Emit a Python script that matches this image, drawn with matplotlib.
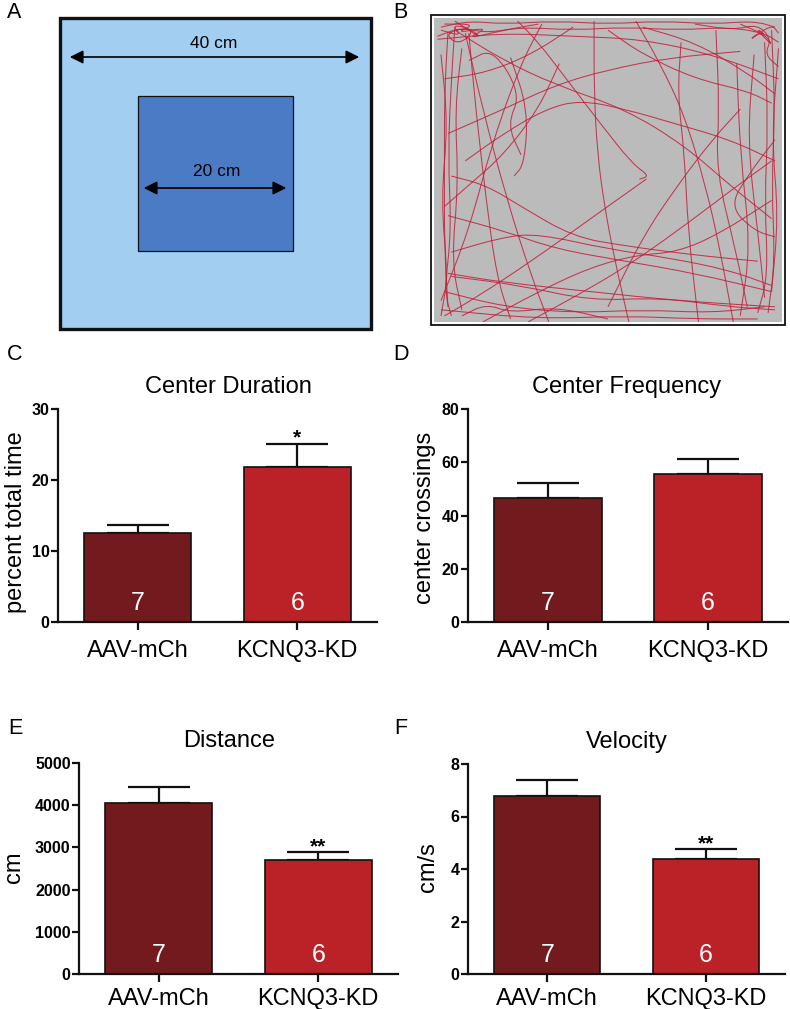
import matplotlib
matplotlib.use("Agg")
import matplotlib.pyplot as plt
from matplotlib.patches import Rectangle, PathPatch
from matplotlib.path import Path

plt.rcParams['font.family'] = ['Liberation Sans', 'DejaVu Sans']

W, H = 790, 1009

# ---------------- data ----------------
groups = ["AAV-mCh", "KCNQ3-KD"]
n_animals = ["7", "6"]

dur_mean = [12.6, 21.8]
dur_sem = [1.0, 3.3]
dur_sig = ["", "*"]

freq_mean = [46.5, 55.6]
freq_sem = [5.6, 5.6]
freq_sig = ["", ""]

dist_mean = [4050, 2695]
dist_sem = [380, 190]
dist_sig = ["", "**"]

vel_mean = [6.77, 4.39]
vel_sem = [0.63, 0.36]
vel_sig = ["", "**"]

# trajectory waypoints (percent of arena, y from top)
trajectory = [
    [(2, 3), (10, 1), (20, 2), (35, 1), (50, 2), (65, 1), (80, 2), (92, 1), (98, 3)],
    [(1, 6), (8, 3), (15, 5), (25, 3), (40, 4), (55, 3), (70, 4), (85, 3), (95, 5), (99, 8)],
    [(2, 4), (8, 6), (5, 2), (12, 4), (7, 9), (3, 5), (10, 3), (14, 7), (6, 1)],
    [(88, 2), (96, 6), (92, 3), (98, 10), (94, 4), (90, 8), (97, 2), (99, 5)],
    [(3, 2), (12, 2), (6, 5), (16, 3), (9, 7), (20, 4), (30, 2)],
    [(75, 2), (86, 4), (93, 2), (97, 7), (95, 12), (99, 16)],
    [(4, 5), (3, 25), (3, 50), (3, 75), (4, 95)],
    [(6, 3), (5, 20), (4, 45), (5, 70), (3, 90), (5, 98)],
    [(8, 10), (6, 30), (7, 55), (5, 80), (8, 96)],
    [(2, 12), (4, 35), (2, 60), (4, 85), (2, 98)],
    [(10, 5), (12, 30), (15, 60), (18, 85), (22, 99)],
    [(97, 4), (98, 30), (97, 55), (98, 80), (96, 97)],
    [(95, 8), (96, 35), (95, 60), (96, 85), (93, 97)],
    [(92, 12), (90, 40), (93, 70), (95, 92)],
    [(87, 15), (88, 45), (91, 75), (88, 98)],
    [(99, 10), (97, 40), (99, 65), (97, 90)],
    [(3, 90), (20, 95), (40, 97), (60, 96), (80, 97), (95, 95)],
    [(5, 85), (25, 88), (45, 93), (65, 92), (85, 95), (98, 96)],
    [(2, 96), (30, 99), (55, 98), (75, 99), (93, 99)],
    [(8, 98), (15, 94), (22, 97), (35, 95), (50, 99)],
    [(46, 1), (46, 25), (47, 45), (49, 62), (52, 80), (56, 100)],
    [(6, 4), (20, 14), (35, 22), (55, 30), (72, 42), (85, 55), (97, 66)],
    [(61, 53), (45, 66), (28, 80), (12, 92), (3, 98)],
    [(24, 1), (30, 8), (38, 20), (48, 35), (57, 48), (62, 52), (59, 53)],
    [(9, 47), (20, 38), (32, 30), (42, 27), (55, 30), (70, 35), (85, 40), (98, 47)],
    [(4, 65), (20, 70), (35, 76), (55, 80), (75, 84), (97, 90)],
    [(27, 100), (40, 92), (55, 82), (70, 70), (85, 57), (97, 47)],
    [(71, 8), (70, 25), (72, 45), (73, 70), (76, 100)],
    [(58, 1), (65, 15), (72, 32), (78, 55), (82, 75), (86, 100)],
    [(2, 93), (10, 70), (17, 40), (25, 15), (31, 2)],
    [(9, 5), (14, 30), (21, 60), (28, 85), (33, 100)],
    [(81, 4), (82, 30), (81, 50), (87, 78), (90, 95)],
    [(4, 38), (20, 30), (35, 22), (50, 17), (68, 13), (88, 11)],
    [(1, 7), (20, 5), (40, 6), (60, 7), (80, 12), (99, 20)],
    [(4, 84), (20, 87), (45, 90), (70, 93), (98, 95)],
    [(5, 77), (20, 72), (30, 71), (50, 76), (68, 79), (85, 83), (97, 88)],
    [(14, 100), (30, 90), (45, 82), (58, 78), (70, 77), (82, 71), (97, 60)],
    [(3, 20), (15, 18), (28, 12), (40, 3)],
    [(60, 3), (75, 8), (90, 18), (98, 25)],
    [(88, 30), (80, 40), (70, 55), (60, 72), (50, 95)],
    [(10, 14), (17, 10), (25, 25), (21, 35), (25, 45)],
    [(22, 13), (27, 30), (26, 48), (23, 52)],
    [(98, 40), (90, 52), (85, 62), (92, 70), (98, 72)],
    [(36, 15), (30, 30), (20, 45), (10, 55), (3, 62)],
    [(50, 4), (60, 12), (75, 20), (90, 24), (97, 28)],
    [(5, 52), (15, 55), (25, 62), (40, 72), (55, 75), (75, 78), (93, 80)],
]

bar_colors = ["#721A1E", "#BB2227"]

fig = plt.figure(figsize=(W / 100, H / 100), dpi=100)

# ---------- overlay axes in pixel coordinates (panel A + letters) ----------
ov = fig.add_axes([0, 0, 1, 1])
ov.set_xlim(0, W)
ov.set_ylim(H, 0)
ov.axis("off")
ov.patch.set_visible(False)

ov.add_patch(Rectangle((60, 18), 311, 311, facecolor="#A2CEF2", edgecolor="#111111", lw=2.4))
ov.add_patch(Rectangle((138, 96), 155, 155, facecolor="#4B7BC5", edgecolor="#111111", lw=0.9))
ov.annotate("", xy=(67, 57), xytext=(362, 57),
            arrowprops=dict(arrowstyle="<|-|>", color="black", lw=1.2, mutation_scale=20))
ov.annotate("", xy=(141, 188), xytext=(289, 188),
            arrowprops=dict(arrowstyle="<|-|>", color="black", lw=1.2, mutation_scale=20))
ov.text(214, 43, "40 cm", fontsize=12.5, ha="center", va="center")
ov.text(217, 172, "20 cm", fontsize=12.5, ha="center", va="center")

# panel B frame
ov.add_patch(Rectangle((431, 15), 354, 310, facecolor="white", edgecolor="#111111", lw=1.3))
ov.add_patch(Rectangle((434, 18), 348, 304, facecolor="#BBBBBB", edgecolor="none"))

for lab, x, y in [("A", 14, 13), ("B", 400, 13), ("C", 15, 355),
                  ("D", 401, 355), ("E", 15, 728), ("F", 401, 728)]:
    ov.text(x, y, lab, fontsize=15.5, ha="center", va="center")

# ---------- panel B trajectory (smooth quadratic curves through waypoints) ----------
axB = fig.add_axes([434 / W, 1 - 322 / H, 348 / W, 304 / H])
axB.set_xlim(0, 100)
axB.set_ylim(100, 0)
axB.axis("off")
axB.patch.set_visible(False)
for pts in trajectory:
    verts = [pts[0]]
    codes = [Path.MOVETO]
    mids = [((pts[i][0] + pts[i + 1][0]) / 2, (pts[i][1] + pts[i + 1][1]) / 2) for i in range(len(pts) - 1)]
    verts.append(mids[0])
    codes.append(Path.LINETO)
    for i in range(1, len(pts) - 1):
        verts += [pts[i], mids[i]]
        codes += [Path.CURVE3, Path.CURVE3]
    verts.append(pts[-1])
    codes.append(Path.LINETO)
    axB.add_patch(PathPatch(Path(verts, codes), facecolor="none", edgecolor="#C41E3A",
                            lw=0.75, alpha=0.85))


def bar_panel(rect, means, sems, sigs, ylim, yticks, ylabel, title, title_x, ylabel_xy, xpad):
    ax = fig.add_axes([rect[0] / W, 1 - rect[3] / H, (rect[1] - rect[0]) / W, (rect[3] - rect[2]) / H])
    ax.patch.set_visible(False)
    x = [0, 1]
    ax.bar(x, means, width=0.67, color=bar_colors, edgecolor="#111111", linewidth=1.2, zorder=2)
    ax.errorbar(x, means, yerr=[[0, 0], sems], fmt="none", ecolor="#111111",
                elinewidth=1.6, capsize=22, capthick=1.6, zorder=1)
    for i in x:
        ax.annotate(n_animals[i], xy=(i, 0), xytext=(0, 14), textcoords="offset points",
                    ha="center", va="center", color="white", fontsize=18)
        if sigs[i]:
            ax.annotate(sigs[i], xy=(i, means[i] + sems[i]), xytext=(0, 0),
                        textcoords="offset points", ha="center", va="baseline",
                        fontsize=15, fontweight="bold")
    ax.set_xlim(-0.5, 1.5)
    ax.set_ylim(*ylim)
    ax.set_yticks(yticks)
    ax.set_yticklabels([str(t) for t in yticks], fontsize=11.5, fontweight="bold")
    ax.set_xticks(x)
    ax.set_xticklabels(groups, fontsize=17)
    for s in ["top", "right"]:
        ax.spines[s].set_visible(False)
    for s in ["left", "bottom"]:
        ax.spines[s].set_linewidth(1.6)
        ax.spines[s].set_color("#111111")
    ax.tick_params(axis="y", length=5, width=1.6, pad=1, color="#111111")
    ax.tick_params(axis="x", length=6, width=1.6, pad=xpad, color="#111111")
    ov.text(title_x, rect[2] - 22, title, fontsize=17, ha="center", va="center")
    ov.text(ylabel_xy[0], ylabel_xy[1], ylabel, fontsize=17, ha="center", va="center", rotation=90)
    return ax


bar_panel((58, 377, 409, 622), dur_mean, dur_sem, dur_sig, (0, 30), [0, 10, 20, 30],
          "percent total time", "Center Duration", 228, (16, 522), 7)
bar_panel((468, 788, 409, 622), freq_mean, freq_sem, freq_sig, (0, 80), [0, 20, 40, 60, 80],
          "center crossings", "Center Frequency", 627, (425, 518), 7)
bar_panel((79, 398, 763, 974), dist_mean, dist_sem, dist_sig, (0, 5000), [0, 1000, 2000, 3000, 4000, 5000],
          "cm", "Distance", 229, (14, 867), 4)
bar_panel((468, 785, 764, 974), vel_mean, vel_sem, vel_sig, (0, 8), [0, 2, 4, 6, 8],
          "cm/s", "Velocity", 627, (428, 867), 4)

fig.savefig("out.png", dpi=100)
